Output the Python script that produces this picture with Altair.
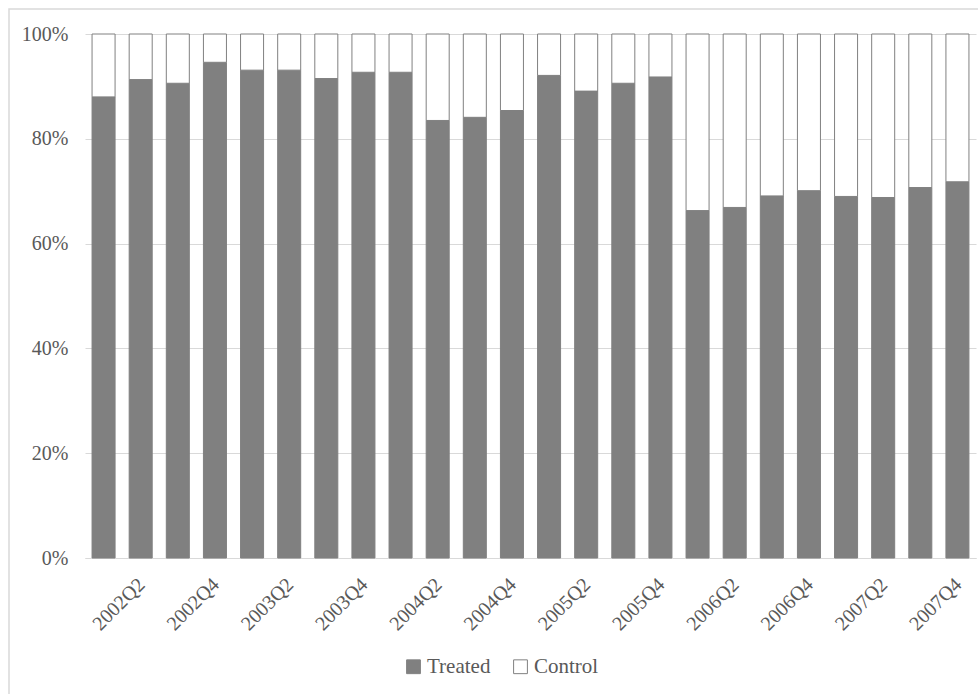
import altair as alt
import pandas as pd

# Quarterly share of observations in the treated and control groups
quarters = [f"{y}Q{q}" for y in range(2002, 2008) for q in range(1, 5)]
treated_pct = [88.0, 91.3, 90.6, 94.6, 93.1, 93.1, 91.5, 92.7,
               92.7, 83.5, 84.1, 85.4, 92.1, 89.1, 90.6, 91.8,
               66.3, 66.9, 69.1, 70.1, 69.0, 68.8, 70.7, 71.8]
series = ["Treated", "Control"]
shown_ticks = [q for q in quarters if q.endswith("Q2") or q.endswith("Q4")]

rows = []
for qt, t in zip(quarters, treated_pct):
    rows.append({"quarter": qt, "group": "Treated", "share": t / 100, "order": 0})
    rows.append({"quarter": qt, "group": "Control", "share": (100 - t) / 100, "order": 1})
df = pd.DataFrame(rows)

FONT = "Liberation Serif"
TEXT = "#595959"
GRID = "#d9d9d9"
BAR = "#808080"

bars = alt.Chart(df).mark_bar(stroke=BAR, strokeWidth=1).encode(
    x=alt.X("quarter:N", sort=quarters, title=None,
            scale=alt.Scale(paddingInner=0.38, paddingOuter=0.19),
            axis=alt.Axis(values=shown_ticks, labelAngle=-45, ticks=False,
                          domain=True, domainColor=GRID, labelPadding=16,
                          labelOffset=-6, grid=False, labelFont=FONT,
                          labelFontSize=20, labelColor=TEXT,
                          labelAlign="right", labelBaseline="top")),
    y=alt.Y("share:Q", stack="zero", title=None,
            scale=alt.Scale(domain=[0, 1], nice=False),
            axis=alt.Axis(values=[0, 0.2, 0.4, 0.6, 0.8, 1.0], format=".0%",
                          ticks=False, domain=False, grid=True, gridColor=GRID,
                          labelPadding=17, labelFont=FONT, labelFontSize=20,
                          labelColor=TEXT)),
    color=alt.Color("group:N", sort=series,
                    scale=alt.Scale(domain=series, range=[BAR, "#ffffff"]),
                    legend=alt.Legend(title=None, orient="none", direction="horizontal",
                                      legendX=318, legendY=622, symbolType="square",
                                      symbolSize=190, symbolStrokeColor=BAR,
                                      symbolStrokeWidth=1, labelOffset=3,
                                      columnPadding=19, labelFont=FONT,
                                      labelFontSize=21, labelColor=TEXT)),
    order=alt.Order("order:Q"),
)

# light frame around the whole figure
frame = alt.Chart(pd.DataFrame({"k": [0]})).mark_rect(
    fill=None, stroke=GRID, strokeWidth=1.5
).encode(x=alt.value(-76), x2=alt.value(905), y=alt.value(-25), y2=alt.value(720))

chart = alt.layer(frame, bars).properties(
    width=891, height=524,
    autosize=alt.AutoSizeParams(type="none"),
    padding={"left": 85, "top": 34, "right": 2, "bottom": 136},
).configure(font=FONT).configure_view(stroke=None)

chart.save("out.html", embed_options={"renderer": "svg", "actions": False})
